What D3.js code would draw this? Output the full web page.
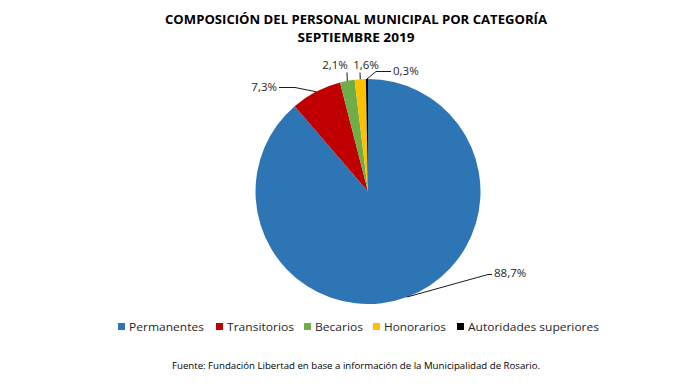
<!DOCTYPE html>
<html><head><meta charset="utf-8">
<script src="https://cdn.jsdelivr.net/npm/d3@7/dist/d3.min.js"></script>
<style>body{margin:0;background:#fff}svg{display:block}</style>
</head><body>
<svg id="c" width="700" height="388"></svg>
<script>
const categories = ["Permanentes","Transitorios","Becarios","Honorarios","Autoridades superiores"];
const values = [88.7, 7.3, 2.1, 1.6, 0.3];
const labels = ["88,7%","7,3%","2,1%","1,6%","0,3%"];
const colors = ["#2E75B6","#C00000","#70AD47","#FFC000","#000000"];

// label layout: elbow point and text point relative to pie centre
const labelLayout = [
  {elbow:[120,83], end:[124,83], text:[126,85], anchor:"start"},
  {elbow:[-73,-104], end:[-89,-104], text:[-91,-101], anchor:"end"},
  {elbow:[-21,-119], end:[-21,-119], text:[-33,-123], anchor:"middle"},
  {elbow:[-8,-119], end:[-8,-119], text:[-2,-123], anchor:"middle"},
  {elbow:[8,-120], end:[23,-120], text:[25,-117], anchor:"start"}
];
// legend layout
const legendX = [118, 216, 304, 373, 457];
const legendW = [75, 67, 48, 62, 131];

const cx = 368, cy = 191.5, R = 112.5;
const font = "'Open Sans', 'Noto Sans', sans-serif";
const svg = d3.select("#c");

svg.append("text").attr("x", 356).attr("y", 24).attr("text-anchor","middle")
  .attr("font-family", font).attr("font-weight","bold").attr("font-size",12.5).attr("fill","#000")
  .attr("textLength",382).attr("lengthAdjust","spacingAndGlyphs")
  .text("COMPOSICIÓN DEL PERSONAL MUNICIPAL POR CATEGORÍA");
svg.append("text").attr("x", 356).attr("y", 42).attr("text-anchor","middle")
  .attr("font-family", font).attr("font-weight","bold").attr("font-size",12.5).attr("fill","#000")
  .attr("textLength",117).attr("lengthAdjust","spacingAndGlyphs")
  .text("SEPTIEMBRE 2019");

const pie = d3.pie().sort(null).value(d => d).startAngle(0).endAngle(2*Math.PI);
const arcs = pie(values);
const arc = d3.arc().innerRadius(0).outerRadius(R);

const g = svg.append("g").attr("transform", `translate(${cx},${cy})`);
g.selectAll("path.s").data(arcs).enter().append("path").attr("class","s")
  .attr("d", arc).attr("fill", (d,i) => colors[i]);

arcs.forEach((d,i) => {
  const a = (d.startAngle + d.endAngle)/2;
  const p0 = [R*Math.sin(a), -R*Math.cos(a)];
  const L = labelLayout[i];
  g.append("polyline").attr("points", [p0, L.elbow, L.end].map(p => p.join(",")).join(" "))
    .attr("fill","none").attr("stroke","#000").attr("stroke-width",0.9);
  g.append("text").attr("x", L.text[0]).attr("y", L.text[1]).attr("text-anchor", L.anchor)
    .attr("font-family", font).attr("font-size", 11.5).attr("fill","#262626").text(labels[i]);
});

const lg = svg.append("g");
categories.forEach((c,i) => {
  lg.append("rect").attr("x", legendX[i]).attr("y", 323).attr("width",7).attr("height",7).attr("fill",colors[i]);
  lg.append("text").attr("x", legendX[i]+11).attr("y", 331).attr("font-family", font)
    .attr("font-size", 11.5).attr("fill","#262626")
    .attr("textLength", legendW[i]).attr("lengthAdjust","spacingAndGlyphs").text(c);
});

svg.append("text").attr("x", 356).attr("y", 369).attr("text-anchor","middle")
  .attr("font-family", font).attr("font-size", 9).attr("fill","#000")
  .attr("textLength",368).attr("lengthAdjust","spacingAndGlyphs")
  .text("Fuente: Fundación Libertad en base a información de la Municipalidad de Rosario.");
</script>
</body></html>
